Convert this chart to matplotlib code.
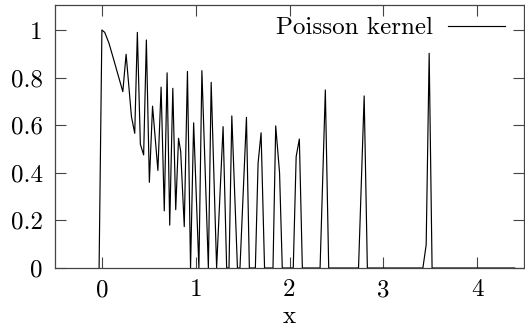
import numpy as np
import matplotlib.pyplot as plt

plt.rcParams['font.family'] = ['cmr10', 'DejaVu Serif']
plt.rcParams['axes.formatter.use_mathtext'] = True

# 数据点
x_vals = [-0.03, 0.0, 0.03, 0.075, 0.127, 0.223, 0.258, 0.315, 0.35, 0.378,
          0.41, 0.445, 0.474, 0.506, 0.54, 0.597, 0.631, 0.665, 0.695, 0.723,
          0.756, 0.787, 0.817, 0.84, 0.878, 0.912, 0.945, 0.978, 1.034, 1.066,
          1.135, 1.165, 1.223, 1.292, 1.33, 1.355, 1.385, 1.445, 1.472, 1.541,
          1.572, 1.636, 1.665, 1.697, 1.734, 1.824, 1.853, 1.894, 1.923, 2.04,
          2.071, 2.105, 2.137, 2.326, 2.382, 2.418, 2.736, 2.796, 2.83, 3.422,
          3.457, 3.489, 3.52, 4.4]
y_vals = [0.0, 1.0, 0.99, 0.945, 0.874, 0.741, 0.898, 0.636, 0.566, 0.99,
          0.52, 0.475, 0.958, 0.36, 0.68, 0.41, 0.76, 0.24, 0.82, 0.18,
          0.755, 0.245, 0.545, 0.49, 0.174, 0.826, 0.0, 0.61, 0.0, 0.829,
          0.0, 0.78, 0.0, 0.594, 0.0, 0.0, 0.639, 0.0, 0.0, 0.633,
          0.0, 0.0, 0.44, 0.568, 0.0, 0.0, 0.597, 0.40, 0.0, 0.0,
          0.468, 0.542, 0.0, 0.0, 0.748, 0.0, 0.0, 0.723, 0.0, 0.0,
          0.097, 0.902, 0.0, 0.0]

x_ticks = [0, 1, 2, 3, 4]
y_ticks = [0, 0.2, 0.4, 0.6, 0.8, 1]
y_tick_labels = ['0', '0.2', '0.4', '0.6', '0.8', '1']

fig = plt.figure(figsize=(5.25, 3.3), dpi=100)
ax = fig.add_axes([55 / 525, 1 - 268 / 330, (524 - 55) / 525, (268 - 5) / 330])

ax.plot(x_vals, y_vals, color='black', lw=0.85, label='Poisson kernel')

ax.set_xlim(-0.5, 4.5)
ax.set_ylim(0, 1.105)
ax.set_xticks(x_ticks)
ax.set_xticklabels([str(t) for t in x_ticks])
ax.set_yticks(y_ticks)
ax.set_yticklabels(y_tick_labels)
ax.tick_params(direction='in', length=8, width=0.8, color='#444444',
               top=True, right=True, labelsize=18, pad=9)
ax.tick_params(axis='x', pad=8)
for s in ax.spines.values():
    s.set_color('#444444')
    s.set_linewidth(0.9)

ax.set_xlabel('x', fontsize=18, labelpad=3)

ax.legend(loc='upper right', bbox_to_anchor=(0.96, 0.955), frameon=False,
          markerfirst=False, fontsize=18, handlelength=2.3, handletextpad=0.6,
          borderpad=0, borderaxespad=0)

fig.savefig('out.png', dpi=100)
